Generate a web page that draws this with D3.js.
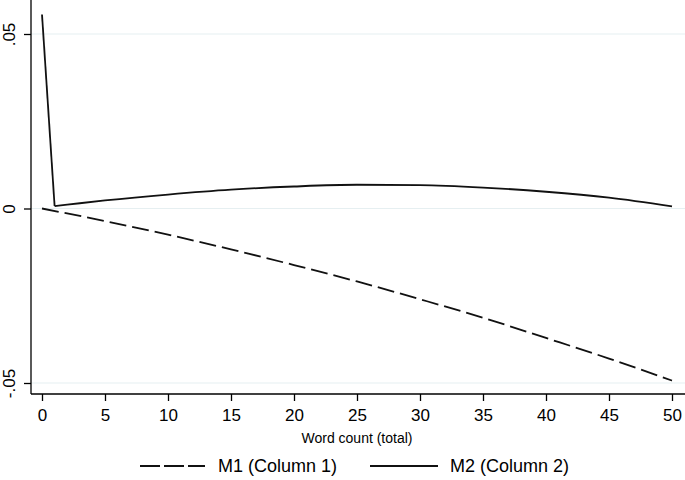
<!DOCTYPE html>
<html><head><meta charset="utf-8">
<script src="https://cdn.jsdelivr.net/npm/d3@7"></script>
<style>body{margin:0;background:#fff}svg{display:block}text{font-family:"Liberation Sans",Arial,sans-serif;fill:#000}</style>
</head><body><svg id="c" width="685" height="480"></svg>
<script>
const m1X = [0, 5, 10, 15, 20, 25, 30, 35, 40, 45, 50];
const m1Y = [0, -0.0036, -0.0075, -0.0117, -0.0162, -0.0209, -0.0260, -0.0313, -0.0371, -0.0430, -0.0493];
const m2X = [0, 1, 2, 5, 10, 15, 20, 25, 30, 35, 40, 45, 50];
const m2Y = [0.0556, 0.0007, 0.0011, 0.0023, 0.0040, 0.0054, 0.0063, 0.0068, 0.0067, 0.0060, 0.0048, 0.0031, 0.0006];
const xTicks = [0, 5, 10, 15, 20, 25, 30, 35, 40, 45, 50];
const yTicks = [-0.05, 0, 0.05];
const yTickLabels = ["-.05", "0", ".05"];
const seriesNames = ["M1 (Column 1)", "M2 (Column 2)"];

const svg = d3.select("#c");
const x = d3.scaleLinear().domain([0, 50]).range([42, 672]);
const y = d3.scaleLinear().domain([-0.05, 0.05]).range([383, 34]);
const axisLeft = 31, axisBottom = 394;
const FONT = "Liberation Sans, Arial, sans-serif";

// gridlines
svg.append("g").selectAll("line").data(yTicks).join("line")
  .attr("x1", axisLeft).attr("x2", 685)
  .attr("y1", d => y(d)).attr("y2", d => y(d))
  .attr("stroke", "#e6eff1").attr("stroke-width", 1.2);

// y axis
const ya = svg.append("g").attr("transform", `translate(${axisLeft},0)`)
  .call(d3.axisLeft(y).tickValues(yTicks).tickSize(7).tickFormat((d,i) => yTickLabels[i]));
ya.select(".domain").attr("d", `M0,0V${axisBottom}`).attr("stroke", "#000").attr("stroke-width", 1.3);
ya.selectAll(".tick line").attr("stroke", "#000").attr("stroke-width", 1.3);
ya.selectAll(".tick text").attr("transform", "rotate(-90)").attr("x", 0).attr("y", -16)
  .attr("dy", 0).attr("text-anchor", "middle").style("font-size", "17px").style("font-family", FONT);

// x axis
const xa = svg.append("g").attr("transform", `translate(0,${axisBottom})`)
  .call(d3.axisBottom(x).tickValues(xTicks).tickSize(7).tickFormat(d3.format("d")));
xa.select(".domain").attr("d", `M${axisLeft},0H685`).attr("stroke", "#000").attr("stroke-width", 1.3);
xa.selectAll(".tick line").attr("stroke", "#000").attr("stroke-width", 1.3);
xa.selectAll(".tick text").attr("y", 15).style("font-size", "17px").style("font-family", FONT);

svg.append("text").attr("x", 357).attr("y", 443).attr("text-anchor", "middle")
  .style("font-size", "14px").text("Word count (total)");

const line = d3.line().x(d => x(d[0])).y(d => y(d[1])).curve(d3.curveMonotoneX);
const lineStraight = d3.line().x(d => x(d[0])).y(d => y(d[1]));
svg.append("path").datum(m1X.map((v,i) => [v, m1Y[i]])).attr("d", line)
  .attr("fill", "none").attr("stroke", "#111").attr("stroke-width", 1.8).attr("stroke-dasharray", "17,6");
const m2 = m2X.map((v,i) => [v, m2Y[i]]);
svg.append("path").datum(m2.slice(0, 2)).attr("d", lineStraight)
  .attr("fill", "none").attr("stroke", "#111").attr("stroke-width", 1.8);
svg.append("path").datum(m2.slice(1)).attr("d", line)
  .attr("fill", "none").attr("stroke", "#111").attr("stroke-width", 1.8);

// legend
const lg = svg.append("g");
lg.append("line").attr("x1", 140).attr("x2", 205).attr("y1", 466).attr("y2", 466)
  .attr("stroke", "#111").attr("stroke-width", 1.8).attr("stroke-dasharray", "20,4");
lg.append("text").attr("x", 218).attr("y", 472).style("font-size", "18px").text(seriesNames[0]);
lg.append("line").attr("x1", 370).attr("x2", 438).attr("y1", 466).attr("y2", 466)
  .attr("stroke", "#111").attr("stroke-width", 1.8);
lg.append("text").attr("x", 450).attr("y", 472).style("font-size", "18px").text(seriesNames[1]);
</script></body></html>
